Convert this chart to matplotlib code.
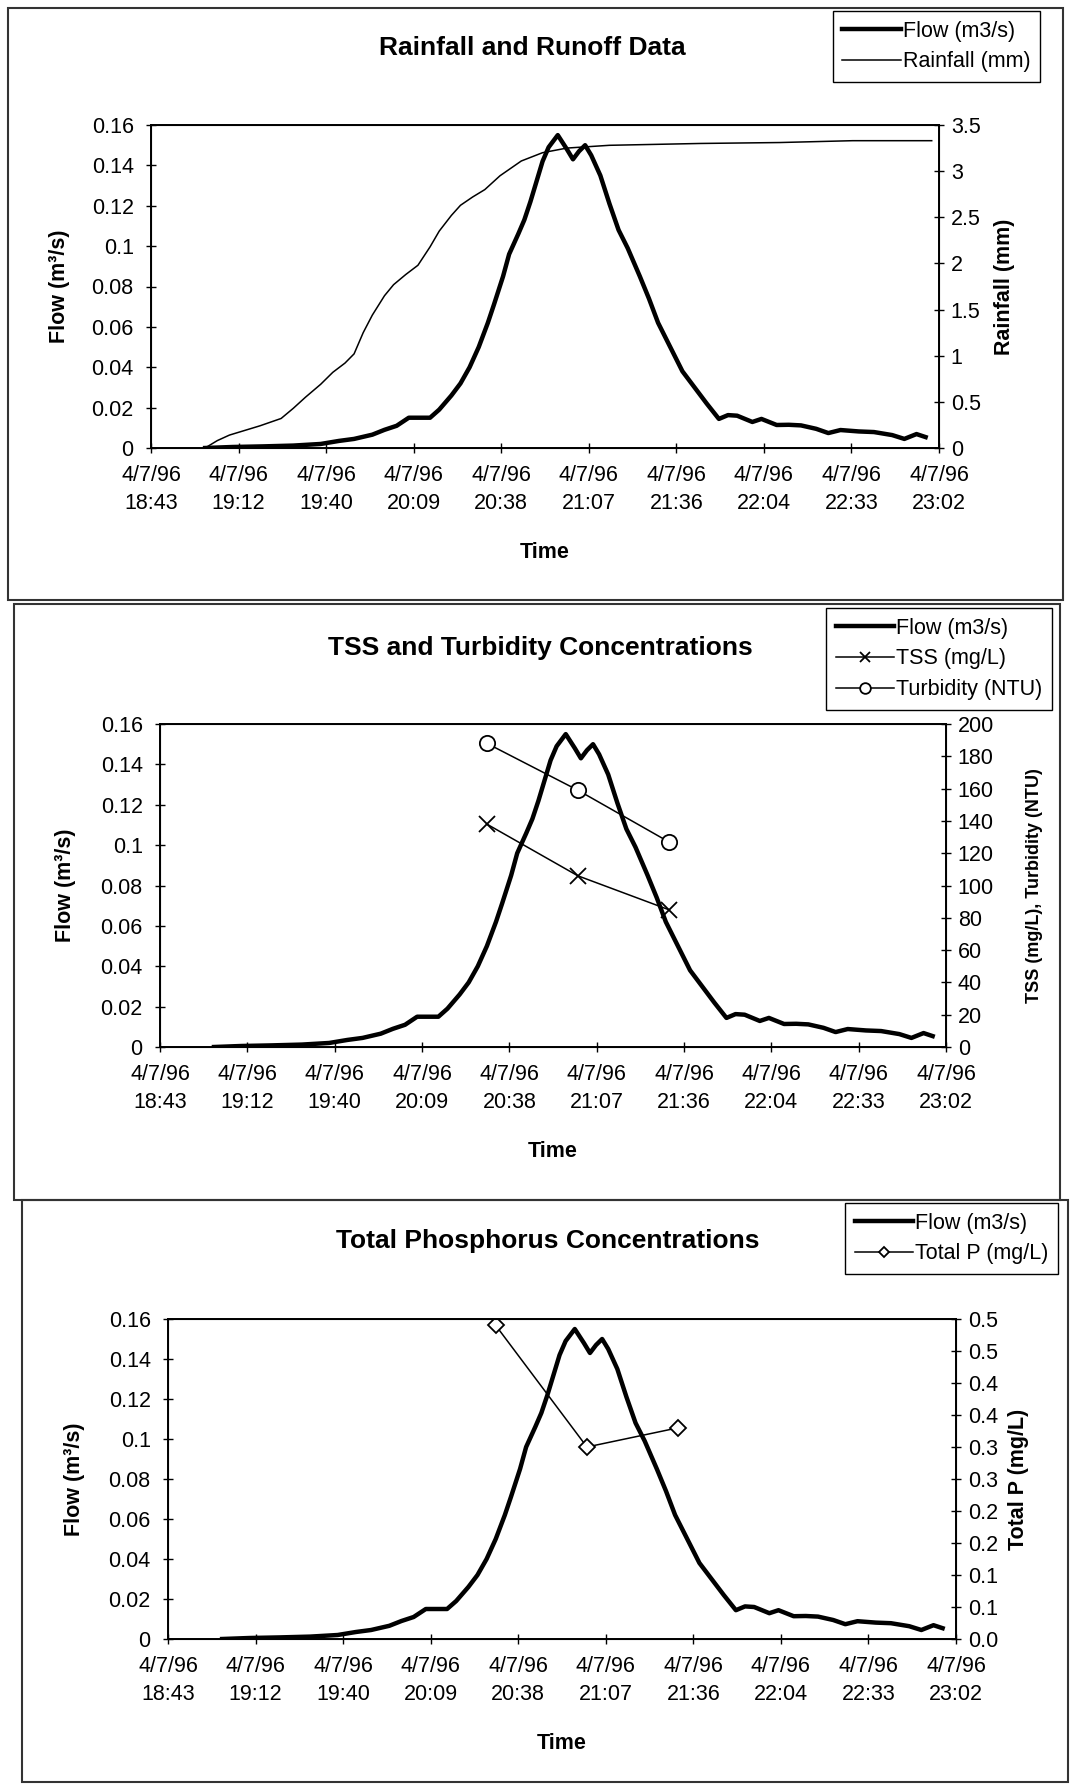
import matplotlib
matplotlib.use('Agg')
import matplotlib.pyplot as plt
from matplotlib.patches import Rectangle
from matplotlib.ticker import FixedLocator, FixedFormatter, FuncFormatter
import matplotlib.dates as mdates
from datetime import datetime, timedelta

plt.rcParams['font.family'] = ['Liberation Sans', 'DejaVu Sans']

# ---- data (4 July 1996) ----
flow_times = ['19:01', '19:10', '19:20', '19:30', '19:39', '19:45', '19:50', '19:56',
              '20:00', '20:04', '20:08', '20:15', '20:18', '20:22', '20:25', '20:28',
              '20:31', '20:34', '20:36', '20:39', '20:41', '20:44', '20:46', '20:48',
              '20:50', '20:52', '20:54', '20:57', '21:00', '21:02', '21:04', '21:06',
              '21:08', '21:11', '21:14', '21:17', '21:20', '21:24', '21:27', '21:30',
              '21:34', '21:38', '21:42', '21:46', '21:50', '21:53', '21:56', '22:01',
              '22:04', '22:09', '22:13', '22:17', '22:22', '22:26', '22:30', '22:36',
              '22:41', '22:47', '22:51', '22:55', '22:58']
flow_values = [0.000, 0.0005, 0.0008, 0.0012, 0.002, 0.0035, 0.0045, 0.0066,
               0.009, 0.011, 0.015, 0.015, 0.019, 0.026, 0.032, 0.040,
               0.050, 0.062, 0.071, 0.085, 0.096, 0.106, 0.113, 0.122,
               0.132, 0.142, 0.149, 0.155, 0.148, 0.143, 0.147, 0.150,
               0.145, 0.135, 0.121, 0.108, 0.099, 0.085, 0.074, 0.062,
               0.050, 0.038, 0.030, 0.022, 0.0144, 0.0163, 0.0160, 0.0129,
               0.0144, 0.0114, 0.0115, 0.0112, 0.0095, 0.0074, 0.0089, 0.0082,
               0.0079, 0.0064, 0.0045, 0.0069, 0.0054]

rain_times = ['19:01', '19:05', '19:09', '19:13', '19:19', '19:26', '19:30', '19:34',
              '19:39', '19:43', '19:47', '19:50', '19:53', '19:56', '20:00', '20:03',
              '20:07', '20:11', '20:15', '20:18', '20:22', '20:25', '20:29', '20:33',
              '20:38', '20:45', '20:52', '21:00', '21:14', '21:44', '22:10', '22:34', '23:00']
rain_values = [0.00, 0.08, 0.14, 0.18, 0.24, 0.32, 0.43, 0.55,
               0.69, 0.82, 0.92, 1.02, 1.25, 1.44, 1.65, 1.77,
               1.88, 1.98, 2.18, 2.35, 2.52, 2.63, 2.72, 2.80,
               2.95, 3.11, 3.20, 3.25, 3.28, 3.30, 3.31, 3.33, 3.33]

sample_times = ['20:31', '21:01', '21:31']
tss_values = [138, 106, 85]
turbidity_values = [188, 159, 127]
total_p_values = [0.49, 0.30, 0.33]

x_tick_labels = ['4/7/96\n18:43', '4/7/96\n19:12', '4/7/96\n19:40', '4/7/96\n20:09',
                 '4/7/96\n20:38', '4/7/96\n21:07', '4/7/96\n21:36', '4/7/96\n22:04',
                 '4/7/96\n22:33', '4/7/96\n23:02']
flow_ticks = [0, 0.02, 0.04, 0.06, 0.08, 0.1, 0.12, 0.14, 0.16]
rain_ticks = [0, 0.5, 1, 1.5, 2, 2.5, 3, 3.5]
conc_ticks = [0, 20, 40, 60, 80, 100, 120, 140, 160, 180, 200]
tp_ticks = [0, 0.05, 0.1, 0.15, 0.2, 0.25, 0.3, 0.35, 0.4, 0.45, 0.5]
tp_tick_labels = ['0.0', '0.1', '0.1', '0.2', '0.2', '0.3', '0.3', '0.4', '0.4', '0.5', '0.5']


def to_dt(hm):
    return datetime.strptime('1996-07-04 ' + hm, '%Y-%m-%d %H:%M')


flow_x = [to_dt(t) for t in flow_times]
rain_x = [to_dt(t) for t in rain_times]
sample_x = [to_dt(t) for t in sample_times]
x_start = datetime(1996, 7, 4, 18, 43, 12)
x_ticks = [mdates.date2num(x_start + timedelta(minutes=28.8 * i)) for i in range(10)]

W, H = 1073, 1784
fig = plt.figure(figsize=(W / 100, H / 100), dpi=100)
fig.patch.set_facecolor('white')

FS = 15.5
gfmt = FuncFormatter(lambda v, p: '%g' % round(v, 4))
leg_kw = dict(loc='upper right', fontsize=FS, fancybox=False, edgecolor='black',
              framealpha=1, handlelength=2.7, handletextpad=0.1, borderpad=0.45,
              labelspacing=0.45, borderaxespad=0, markerscale=0.7)


def fx(x):
    return x / W


def fy(y):
    return 1 - y / H


def panel_box(x0, y0, x1, y1):
    fig.add_artist(Rectangle((fx(x0), fy(y1)), fx(x1) - fx(x0), fy(y0) - fy(y1),
                             transform=fig.transFigure, fill=False, ec='#333333', lw=1.5))


def make_axes(l, t, r, b, ylab_x):
    ax = fig.add_axes([fx(l), fy(b), fx(r) - fx(l), fy(t) - fy(b)])
    ax.set_xlim(x_ticks[0], x_ticks[-1])
    ax.set_ylim(0, 0.16)
    ax.xaxis.set_major_locator(FixedLocator(x_ticks))
    ax.xaxis.set_major_formatter(FixedFormatter(x_tick_labels))
    ax.yaxis.set_major_locator(FixedLocator(flow_ticks))
    ax.yaxis.set_major_formatter(gfmt)
    ax.tick_params(axis='both', direction='inout', length=7, width=1, labelsize=FS)
    ax.tick_params(axis='x', pad=9)
    ax.tick_params(axis='y', pad=9)
    for lab in ax.get_xticklabels():
        lab.set_linespacing(1.4)
    for s in ax.spines.values():
        s.set_linewidth(1.4)
    ax.set_ylabel('Flow (m³/s)', fontsize=FS, fontweight='bold')
    ax.yaxis.set_label_coords(ylab_x, 0.5)
    ax.set_xlabel('Time', fontsize=FS, fontweight='bold', labelpad=20)
    ax2 = ax.twinx()
    ax2.tick_params(axis='y', direction='inout', length=7, width=1, labelsize=FS, pad=5)
    return ax, ax2


# ---------- panel 1 ----------
panel_box(8, 8, 1063, 600)
ax, ax2 = make_axes(151, 125, 939, 448, -0.103)
l1, = ax.plot(flow_x, flow_values, color='black', lw=3.2)
l2, = ax2.plot(rain_x, rain_values, color='black', lw=1.1)
ax2.set_ylim(0, 3.5)
ax2.yaxis.set_major_locator(FixedLocator(rain_ticks))
ax2.yaxis.set_major_formatter(gfmt)
ax2.set_ylabel('Rainfall (mm)', fontsize=FS, fontweight='bold')
ax2.yaxis.set_label_coords(1.070, 0.5)
fig.text(fx(532), fy(48), 'Rainfall and Runoff Data', fontsize=19, fontweight='bold',
         ha='center', va='center')
fig.legend([l1, l2], ['Flow (m3/s)', 'Rainfall (mm)'],
           bbox_to_anchor=(fx(1040), fy(11)), **leg_kw)

# ---------- panel 2 ----------
panel_box(14, 604, 1060, 1200)
ax, ax2 = make_axes(160, 724, 946, 1047, -0.107)
l1, = ax.plot(flow_x, flow_values, color='black', lw=3.2)
l2, = ax2.plot(sample_x, tss_values, color='black', lw=1.1, marker='x', ms=11, mew=1.3)
l3, = ax2.plot(sample_x, turbidity_values, color='black', lw=1.1, marker='o', ms=11,
               mfc='white', mew=1.3)
ax2.set_ylim(0, 200)
ax2.yaxis.set_major_locator(FixedLocator(conc_ticks))
ax2.yaxis.set_major_formatter(gfmt)
ax2.set_ylabel('TSS (mg/L), Turbidity (NTU)', fontsize=13, fontweight='bold')
ax2.yaxis.set_label_coords(1.102, 0.5)
fig.text(fx(540), fy(648), 'TSS and Turbidity Concentrations', fontsize=19,
         fontweight='bold', ha='center', va='center')
fig.legend([l1, l2, l3], ['Flow (m3/s)', 'TSS (mg/L)', 'Turbidity (NTU)'],
           bbox_to_anchor=(fx(1052), fy(608)), **leg_kw)

# ---------- panel 3 ----------
panel_box(22, 1200, 1068, 1782)
ax, ax2 = make_axes(168, 1319, 956, 1639, -0.105)
l1, = ax.plot(flow_x, flow_values, color='black', lw=3.2)
l2, = ax2.plot(sample_x, total_p_values, color='black', lw=1.1, marker='D', ms=8,
               mfc='white', mew=1.3)
ax2.set_ylim(0, 0.5)
ax2.yaxis.set_major_locator(FixedLocator(tp_ticks))
ax2.yaxis.set_major_formatter(FixedFormatter(tp_tick_labels))
ax2.set_ylabel('Total P (mg/L)', fontsize=FS, fontweight='bold')
ax2.yaxis.set_label_coords(1.066, 0.5)
fig.text(fx(548), fy(1241), 'Total Phosphorus Concentrations', fontsize=19,
         fontweight='bold', ha='center', va='center')
fig.legend([l1, l2], ['Flow (m3/s)', 'Total P (mg/L)'],
           bbox_to_anchor=(fx(1058), fy(1203)), **leg_kw)

fig.savefig('out.png', dpi=100, facecolor='white')
